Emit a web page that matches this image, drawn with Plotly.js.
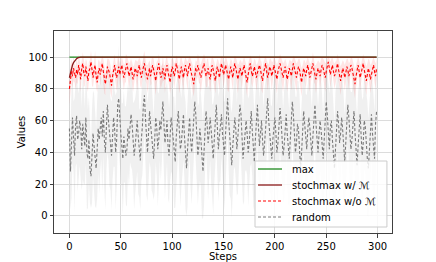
<!DOCTYPE html>
<html>
<head>
<meta charset="utf-8">
<script src="https://cdn.plot.ly/plotly-3.0.1.min.js"></script>
<style>html,body{margin:0;padding:0;background:#fff;}#chart{width:436px;height:262px;}</style>
</head>
<body>
<div id="chart"></div>
<script>
// Steps 0..299
const steps = [];
for (let i = 0; i < 300; i++) steps.push(i);

const seriesNames = ["max", "stochmax w/ <i>ℳ</i>", "stochmax w/o <i>ℳ</i>", "random"];
const seriesColors = ["#1f8a1f", "#8b1a1a", "#ff0000", "#7a7a7a"];
const seriesDash = ["solid", "solid", "3px,2px", "3px,2px"];

const maxValues = [
100,100,100,100,100,100,100,100,100,100,100,100,100,100,100,100,100,100,100,100,
100,100,100,100,100,100,100,100,100,100,100,100,100,100,100,100,100,100,100,100,
100,100,100,100,100,100,100,100,100,100,100,100,100,100,100,100,100,100,100,100,
100,100,100,100,100,100,100,100,100,100,100,100,100,100,100,100,100,100,100,100,
100,100,100,100,100,100,100,100,100,100,100,100,100,100,100,100,100,100,100,100,
100,100,100,100,100,100,100,100,100,100,100,100,100,100,100,100,100,100,100,100,
100,100,100,100,100,100,100,100,100,100,100,100,100,100,100,100,100,100,100,100,
100,100,100,100,100,100,100,100,100,100,100,100,100,100,100,100,100,100,100,100,
100,100,100,100,100,100,100,100,100,100,100,100,100,100,100,100,100,100,100,100,
100,100,100,100,100,100,100,100,100,100,100,100,100,100,100,100,100,100,100,100,
100,100,100,100,100,100,100,100,100,100,100,100,100,100,100,100,100,100,100,100,
100,100,100,100,100,100,100,100,100,100,100,100,100,100,100,100,100,100,100,100,
100,100,100,100,100,100,100,100,100,100,100,100,100,100,100,100,100,100,100,100,
100,100,100,100,100,100,100,100,100,100,100,100,100,100,100,100,100,100,100,100,
100,100,100,100,100,100,100,100,100,100,100,100,100,100,100,100,100,100,100,100];

const stochWith = [
87,90,93,95,96.5,97.5,98.5,99,99.5,99.8,100,100,100,100,100,100,100,100,100,100,
100,100,100,100,100,100,100,100,100,100,100,100,100,100,100,100,100,100,100,100,
100,100,100,100,100,100,100,100,100,100,100,100,100,100,100,100,100,100,100,100,
100,100,100,100,100,100,100,100,100,100,100,100,100,100,100,100,100,100,100,100,
100,100,100,100,100,100,100,100,100,100,100,100,100,100,100,100,100,100,100,100,
100,100,100,100,100,100,100,100,100,100,100,100,100,100,100,100,100,100,100,100,
100,100,100,100,100,100,100,100,100,100,100,100,100,100,100,100,100,100,100,100,
100,100,100,100,100,100,100,100,100,100,100,100,100,100,100,100,100,100,100,100,
100,100,100,100,100,100,100,100,100,100,100,100,100,100,100,100,100,100,100,100,
100,100,100,100,100,100,100,100,100,100,100,100,100,100,100,100,100,100,100,100,
100,100,100,100,100,100,100,100,100,100,100,100,100,100,100,100,100,100,100,100,
100,100,100,100,100,100,100,100,100,100,100,100,100,100,100,100,100,100,100,100,
100,100,100,100,100,100,100,100,100,100,100,100,100,100,100,100,100,100,100,100,
100,100,100,100,100,100,100,100,100,100,100,100,100,100,100,100,100,100,100,100,
100,100,100,100,100,100,100,100,100,100,100,100,100,100,100,100,100,100,100,100];

const stochWithout = [
80,86,91,88,93,90,87,92,89,95, 91,86,93,96,90,88,94,89,85,91,
93,97,90,87,92,95,88,84,90,93, 89,92,96,91,86,83,88,94,92,90,
86,82,88,93,95,90,87,91,94,89, 92,95,91,87,90,93,96,92,88,91,
94,90,86,89,93,91,88,92,95,90, 87,91,94,96,92,89,86,90,93,88,
91,95,92,88,85,90,93,96,91,87, 89,93,90,86,92,95,91,88,84,90,
94,92,88,91,96,93,89,86,91,94, 90,87,92,95,91,88,93,96,92,89,
86,83,88,93,91,95,92,89,87,91, 94,96,92,88,90,93,89,86,91,95,
92,88,85,90,94,91,87,92,96,93, 89,91,95,92,88,86,90,94,91,87,
92,96,93,89,86,90,93,91,88,92, 95,91,87,84,89,93,96,92,88,90,
94,91,87,90,93,95,92,88,85,90, 93,96,91,87,90,94,92,88,91,95,
92,89,86,91,94,96,93,89,87,91, 94,90,86,89,93,91,88,92,96,93,
90,87,91,94,92,88,84,89,93,91, 88,92,95,91,87,90,93,96,92,89,
86,90,93,91,88,92,95,93,90,87, 91,94,97,93,89,92,95,91,88,90,
93,96,92,88,85,89,93,91,87,90, 94,92,88,91,95,93,89,86,83,88,
92,95,91,87,90,94,96,92,88,85, 89,93,90,86,89,92,95,91,88,93];

const stochWithoutStd = [
10,9,8,7,8,6,7,8,6,7, 6,8,5,7,9,6,5,8,7,6,
5,7,8,6,5,9,7,6,8,5, 7,6,5,8,9,7,6,5,7,8,
9,8,6,5,7,6,8,9,5,7, 6,5,7,8,6,9,5,7,8,6,
5,7,8,6,5,7,9,6,5,8, 7,6,5,8,7,6,9,7,5,6,
8,5,7,6,9,7,5,6,8,7, 6,8,5,9,7,6,5,8,7,9,
5,7,8,6,5,7,6,9,8,6, 7,8,6,5,7,9,6,5,7,8,
9,8,7,5,6,7,8,6,9,7, 5,6,8,7,9,6,5,8,7,6,
7,9,8,6,5,7,8,6,5,7, 8,6,5,7,9,8,6,5,7,8,
6,5,7,8,9,6,5,7,8,6, 5,7,8,9,7,6,5,8,7,6,
5,7,8,6,5,7,6,9,8,7, 6,5,7,8,6,5,7,9,6,5,
7,8,9,6,5,6,7,8,9,6, 5,7,8,6,5,7,9,6,5,7,
8,9,6,5,7,8,9,6,5,7, 8,6,5,7,9,6,5,7,8,6,
9,7,5,6,8,7,5,6,8,9, 6,5,4,6,8,7,5,6,8,7,
5,6,7,8,9,7,5,6,8,7, 5,7,8,6,5,7,8,9,9,7,
6,5,7,8,6,5,6,7,8,9, 7,6,8,9,7,6,5,7,8,6];

const randomValues = [
55,28,45,62,50,38,57,63,48,52, 60,55,42,58,50,44,62,40,36,48,
30,25,38,52,44,35,30,42,55,48, 58,62,50,66,48,40,56,70,60,52,
45,38,50,62,55,40,48,70,74,60, 52,44,36,50,45,38,42,55,48,60,
64,58,46,38,44,52,60,50,40,35, 48,56,70,76,62,48,40,52,66,58,
50,44,36,48,62,56,42,48,60,54, 68,72,58,46,52,60,44,38,50,62,
56,48,40,34,50,60,66,54,42,46, 58,64,50,38,30,42,56,62,48,40,
50,60,72,64,50,38,44,55,48,34, 28,40,55,66,58,46,52,62,54,40,
36,48,60,70,56,42,50,58,64,52, 44,38,52,66,74,60,48,40,32,44,
56,62,54,42,50,60,70,64,48,36, 44,56,60,52,40,46,58,66,54,42,
34,48,62,70,56,44,52,60,48,38, 46,56,64,74,60,50,42,36,48,58,
62,52,40,46,58,68,60,48,38,44, 56,64,52,42,36,48,60,72,64,50,
40,46,58,54,42,30,40,56,66,58, 48,42,54,62,56,44,38,50,64,70,
58,46,40,52,60,54,42,36,48,62, 72,64,50,42,56,60,48,38,30,42,
56,66,58,46,52,62,54,40,34,46, 60,70,62,50,42,48,58,66,52,40,
32,44,58,64,50,38,46,60,56,44, 36,30,42,56,64,52,40,36,58,66];

const randomStd = [
30,24,34,28,22,36,26,30,33,25, 28,32,26,35,30,24,29,36,31,27,
22,20,30,27,33,29,25,31,28,34, 30,26,35,28,32,36,27,30,25,33,
29,34,27,31,24,36,30,26,33,28, 32,27,35,29,24,31,36,28,30,26,
33,29,25,34,30,27,32,36,28,31, 26,30,33,24,29,35,31,27,32,28,
34,30,26,33,28,31,36,29,25,32, 27,24,31,35,29,26,33,30,28,34,
30,27,35,29,32,26,24,31,36,28, 33,29,27,34,30,36,28,25,31,33,
29,26,23,30,34,31,27,33,29,35, 30,34,28,25,31,36,29,27,33,30,
35,28,31,26,30,33,29,36,27,31, 28,34,30,26,22,31,35,29,33,30,
27,31,34,29,36,28,25,30,33,29, 35,28,31,26,34,30,27,33,29,36,
31,27,30,25,33,29,35,28,32,30, 34,29,27,24,31,35,28,33,30,27,
31,34,29,36,28,25,30,33,29,35, 28,26,32,34,30,36,29,24,31,33,
35,29,27,31,34,30,33,28,26,31, 29,34,28,26,31,35,30,33,27,24,
31,35,29,27,30,33,36,28,32,29, 24,27,33,35,29,30,34,31,28,36,
30,26,31,34,28,27,32,35,30,29, 33,25,28,31,36,30,27,26,33,35,
30,34,27,26,32,35,29,31,28,34, 36,31,29,27,26,33,35,30,28,25];

const xTicks = [0, 50, 100, 150, 200, 250, 300];
const yTicks = [0, 20, 40, 60, 80, 100];

function lowerOf(m, s) { return m.map((v, i) => v - s[i]); }
function upperOf(m, s) { return m.map((v, i) => v + s[i]); }

const lineSeries = [maxValues, stochWith, stochWithout, randomValues];

const traces = [
  // random band
  {x: steps, y: lowerOf(randomValues, randomStd), type: 'scatter', mode: 'lines', line: {width: 0, color: 'rgba(0,0,0,0)'}, showlegend: false, hoverinfo: 'skip'},
  {x: steps, y: upperOf(randomValues, randomStd), type: 'scatter', mode: 'lines', line: {width: 0, color: 'rgba(0,0,0,0)'}, fill: 'tonexty', fillcolor: 'rgba(128,128,128,0.12)', showlegend: false, hoverinfo: 'skip'},
  // stochmax w/o band
  {x: steps, y: lowerOf(stochWithout, stochWithoutStd), type: 'scatter', mode: 'lines', line: {width: 0, color: 'rgba(0,0,0,0)'}, showlegend: false, hoverinfo: 'skip'},
  {x: steps, y: upperOf(stochWithout, stochWithoutStd), type: 'scatter', mode: 'lines', line: {width: 0, color: 'rgba(0,0,0,0)'}, fill: 'tonexty', fillcolor: 'rgba(255,0,0,0.1)', showlegend: false, hoverinfo: 'skip'}
];
lineSeries.forEach((ys, k) => {
  traces.push({x: steps, y: ys, type: 'scatter', mode: 'lines', name: seriesNames[k], showlegend: false,
    line: {color: seriesColors[k], width: k < 2 ? 1.3 : 1.1, dash: seriesDash[k]}});
});

// Legend box drawn in plot-area paper coordinates
const shapes = [{type: 'rect', xref: 'paper', yref: 'paper', x0: 0.5947, x1: 0.985, y0: 0.0297, y1: 0.3564,
  fillcolor: 'rgba(255,255,255,0.82)', line: {color: '#cccccc', width: 1}, layer: 'above'}];
const annotations = [];
const rowY = [0.3168, 0.2376, 0.1584, 0.0792];
seriesNames.forEach((nm, k) => {
  shapes.push({type: 'line', xref: 'paper', yref: 'paper', x0: 0.6036, x1: 0.6746, y0: rowY[k], y1: rowY[k],
    line: {color: seriesColors[k], width: k < 2 ? 1.3 : 1.1, dash: seriesDash[k]}, layer: 'above'});
  annotations.push({xref: 'paper', yref: 'paper', x: 0.698, y: rowY[k], xanchor: 'left', yanchor: 'middle',
    text: nm, showarrow: false, font: {family: 'DejaVu Sans', size: 10, color: '#000'}});
});

const axisCommon = {
  showgrid: true, gridcolor: '#dcdcdc', gridwidth: 1,
  zeroline: false, showline: true, linecolor: '#404040', linewidth: 1, mirror: true,
  ticks: 'outside', ticklen: 3.5, tickcolor: '#404040', tickwidth: 1,
  tickfont: {family: 'DejaVu Sans', size: 10, color: '#000'},
  automargin: false
};

const layout = {
  width: 436, height: 262,
  margin: {l: 54, r: 44, t: 31, b: 29, pad: 0},
  paper_bgcolor: '#fff', plot_bgcolor: '#fff',
  showlegend: false,
  shapes: shapes,
  annotations: annotations,
  xaxis: Object.assign({}, axisCommon, {range: [-15, 314], tickvals: xTicks, ticktext: xTicks.map(String),
    title: {text: 'Steps', font: {family: 'DejaVu Sans', size: 10, color: '#000'}, standoff: 0}}),
  yaxis: Object.assign({}, axisCommon, {range: [-10.7, 116.4], tickvals: yTicks, ticktext: yTicks.map(String),
    title: {text: 'Values', font: {family: 'DejaVu Sans', size: 10, color: '#000'}, standoff: 0}})
};

Plotly.newPlot('chart', traces, layout, {displayModeBar: false, staticPlot: true});
</script>
</body>
</html>
